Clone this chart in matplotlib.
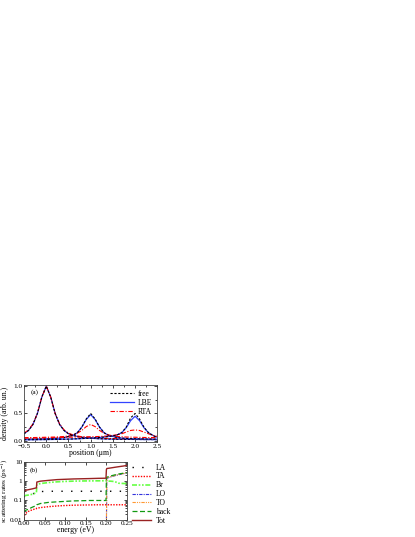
import matplotlib
matplotlib.use("Agg")
import matplotlib.pyplot as plt
import numpy as np
from matplotlib.ticker import FixedLocator, FuncFormatter, NullFormatter

plt.rcParams['font.family'] = ['Liberation Serif', 'DejaVu Serif']
plt.rcParams['mathtext.fontset'] = 'stix'

# ---- panel (a): density profiles at three times ----
pos = [-0.5, -0.4, -0.3, -0.2, -0.1, 0.0, 0.1, 0.2, 0.3, 0.4, 0.5,
       0.6, 0.7, 0.8, 0.9, 1.0, 1.1, 1.2, 1.3, 1.4, 1.5,
       1.6, 1.7, 1.8, 1.9, 2.0, 2.1, 2.2, 2.3, 2.4, 2.5]

free_t0 = [0.13, 0.19, 0.30, 0.50, 0.80, 1.00, 0.80, 0.50, 0.30, 0.19, 0.13,
           0.10, 0.08, 0.065, 0.055, 0.048, 0.043, 0.039, 0.036, 0.034, 0.032,
           0.030, 0.029, 0.028, 0.027, 0.026, 0.025, 0.024, 0.024, 0.023, 0.023]
lbe_t0 = [0.13, 0.19, 0.30, 0.50, 0.80, 1.00, 0.80, 0.50, 0.30, 0.19, 0.13,
          0.10, 0.08, 0.065, 0.055, 0.048, 0.043, 0.039, 0.036, 0.034, 0.032,
          0.030, 0.029, 0.028, 0.027, 0.026, 0.025, 0.024, 0.024, 0.023, 0.023]
rta_t0 = [0.14, 0.20, 0.31, 0.50, 0.80, 1.00, 0.80, 0.50, 0.31, 0.20, 0.14,
          0.11, 0.09, 0.075, 0.065, 0.058, 0.053, 0.049, 0.046, 0.044, 0.042,
          0.040, 0.039, 0.038, 0.037, 0.036, 0.035, 0.034, 0.034, 0.033, 0.033]

free_t1 = [0.030, 0.030, 0.032, 0.034, 0.036, 0.038, 0.040, 0.045, 0.050, 0.060, 0.080,
           0.100, 0.150, 0.250, 0.400, 0.500, 0.400, 0.250, 0.150, 0.100, 0.080,
           0.060, 0.050, 0.045, 0.040, 0.038, 0.036, 0.034, 0.032, 0.030, 0.030]
lbe_t1 = [0.030, 0.030, 0.032, 0.034, 0.036, 0.038, 0.040, 0.045, 0.050, 0.060, 0.080,
          0.100, 0.150, 0.250, 0.390, 0.480, 0.390, 0.250, 0.150, 0.100, 0.080,
          0.060, 0.050, 0.045, 0.040, 0.038, 0.036, 0.034, 0.032, 0.030, 0.030]
rta_t1 = [0.060, 0.060, 0.060, 0.062, 0.064, 0.066, 0.068, 0.070, 0.075, 0.080, 0.090,
          0.110, 0.140, 0.190, 0.260, 0.300, 0.260, 0.190, 0.140, 0.110, 0.090,
          0.080, 0.075, 0.070, 0.068, 0.066, 0.064, 0.062, 0.060, 0.060, 0.060]

free_t2 = [0.020, 0.020, 0.021, 0.022, 0.023, 0.024, 0.025, 0.026, 0.028, 0.030, 0.032,
           0.035, 0.038, 0.042, 0.046, 0.050, 0.055, 0.062, 0.070, 0.080, 0.090,
           0.110, 0.150, 0.250, 0.420, 0.500, 0.400, 0.250, 0.150, 0.100, 0.060]
lbe_t2 = [0.020, 0.020, 0.021, 0.022, 0.023, 0.024, 0.025, 0.026, 0.028, 0.030, 0.032,
          0.035, 0.038, 0.042, 0.046, 0.050, 0.055, 0.062, 0.070, 0.080, 0.090,
          0.110, 0.150, 0.240, 0.370, 0.450, 0.370, 0.240, 0.150, 0.100, 0.065]
rta_t2 = [0.050, 0.050, 0.050, 0.052, 0.054, 0.056, 0.058, 0.060, 0.062, 0.064, 0.066,
          0.068, 0.070, 0.072, 0.074, 0.076, 0.078, 0.080, 0.085, 0.090, 0.100,
          0.110, 0.130, 0.160, 0.190, 0.200, 0.190, 0.160, 0.130, 0.100, 0.080]

# ---- panel (b): scattering rates vs energy ----
energy = [0.0, 0.002, 0.01, 0.02, 0.03, 0.031, 0.04, 0.06, 0.08, 0.10, 0.12,
          0.14, 0.16, 0.18, 0.199, 0.2, 0.201, 0.21, 0.22, 0.23, 0.24, 0.25]
rate_LA = [0.15, 0.17, 0.19, 0.22, 0.25, 0.28, 0.29, 0.30, 0.30, 0.30, 0.30,
           0.30, 0.30, 0.30, 0.30, 0.30, 0.30, 0.30, 0.30, 0.30, 0.30, 0.30]
rate_TA = [0.012, 0.020, 0.027, 0.033, 0.038, 0.040, 0.043, 0.048, 0.052, 0.055, 0.057,
           0.058, 0.059, 0.060, 0.060, 0.060, 0.060, 0.060, 0.060, 0.060, 0.060, 0.060]
rate_Br = [0.17, 0.18, 0.19, 0.21, 0.25, 0.68, 0.75, 0.85, 0.92, 0.97, 1.00,
           1.02, 1.03, 1.04, 1.05, 1.00, 1.00, 1.00, 0.95, 0.78, 0.76, 0.75]
rate_LO = [np.nan] * 15 + [0.005, 1.40, 1.65, 1.90, 2.15, 2.40, 2.65]
rate_TO = [np.nan] * 15 + [0.005, 1.45, 1.70, 1.95, 2.20, 2.45, 2.70]
rate_back = [0.025, 0.030, 0.035, 0.045, 0.055, 0.060, 0.070, 0.080, 0.085, 0.090, 0.095,
             0.097, 0.100, 0.100, 0.100, 1.40, 1.60, 1.85, 2.10, 2.35, 2.55, 2.75]
rate_Tot = [0.25, 0.33, 0.36, 0.40, 0.45, 0.90, 1.00, 1.10, 1.20, 1.25, 1.30,
            1.33, 1.36, 1.40, 1.42, 4.00, 4.50, 4.80, 5.20, 5.60, 6.00, 6.50]

fig = plt.figure(figsize=(4.15, 5.37), dpi=100)
fs = 5.2
fl = 5.6

ax1 = fig.add_axes([0.058, 0.177, 0.321, 0.106])
for lbe, rta, free in [(lbe_t0, rta_t0, free_t0), (lbe_t1, rta_t1, free_t1),
                       (lbe_t2, rta_t2, free_t2)]:
    ax1.plot(pos, lbe, color='#3344ff', lw=0.9, label='LBE')
    ax1.plot(pos, rta, color='red', lw=0.8, ls=(0, (4, 1.5, 1, 1.5)), label='RTA')
    ax1.plot(pos, free, color='black', lw=0.8, ls=(0, (2, 1.5)), label='free')
h, l = ax1.get_legend_handles_labels()
ax1.legend([h[2], h[0], h[1]], ['free', 'LBE', 'RTA'], loc='upper right',
           frameon=False, fontsize=fs + 0.3, handlelength=3.2, handletextpad=0.5,
           labelspacing=0.12, borderaxespad=0.25)
ax1.set_xlim(-0.5, 2.5)
ax1.set_ylim(-0.02, 1.02)
ax1.set_xticks([-0.5, 0.0, 0.5, 1.0, 1.5, 2.0, 2.5])
ax1.set_yticks([0.0, 0.5, 1.0])
ax1.set_xticks([-0.25, 0.25, 0.75, 1.25, 1.75, 2.25], minor=True)
ax1.set_yticks([0.25, 0.75], minor=True)
ax1.set_xlabel('position (μm)', fontsize=fl, labelpad=0.5)
ax1.set_ylabel('density (arb. un.)', fontsize=fl)
ax1.yaxis.set_label_coords(-0.11, 0.5)
ax1.text(0.05, 0.93, '(a)', transform=ax1.transAxes, fontsize=fs, va='top')

ax2 = fig.add_axes([0.058, 0.032, 0.248, 0.108])
ax2.plot(energy, rate_LA, color='black', lw=1.0, ls=(0, (1, 6)), label='LA')
ax2.plot(energy, rate_TA, color='red', lw=1.0, ls=(0, (1, 1)), label='TA')
ax2.plot(energy, rate_Br, color='#66ff44', lw=1.2, ls=(0, (3, 1, 1, 1, 1, 1)), label='Br')
ax2.plot(energy, rate_LO, color='#3333dd', lw=0.8, ls=(0, (3, 1, 1, 1)), label='LO')
ax2.plot(energy, rate_TO, color='#ff9933', lw=0.8, ls=(0, (3, 1, 1, 1, 1, 1)), label='TO')
ax2.plot(energy, rate_back, color='#119911', lw=0.9, ls=(0, (4, 2)), label='back')
ax2.plot(energy, rate_Tot, color='#992222', lw=1.0, label='Tot')
ax2.set_yscale('log')
ax2.set_xlim(0, 0.25)
ax2.set_ylim(0.01, 10)
ax2.set_xticks([0.0, 0.05, 0.10, 0.15, 0.20, 0.25])
ax2.xaxis.set_major_formatter(FuncFormatter(lambda v, p: '%.2f' % v))
ax2.yaxis.set_major_locator(FixedLocator([0.01, 0.1, 1, 10]))
ax2.yaxis.set_major_formatter(FuncFormatter(lambda v, p: '%g' % v))
ax2.yaxis.set_minor_formatter(NullFormatter())
ax2.set_xlabel('energy (eV)', fontsize=fl, labelpad=0)
ax2.set_ylabel('scattering rates (ps$^{-1}$)', fontsize=fl - 0.4)
ax2.yaxis.set_label_coords(-0.14, 0.5)
ax2.text(0.05, 0.9, '(b)', transform=ax2.transAxes, fontsize=fs, va='top')
ax2.legend(loc='upper left', bbox_to_anchor=(1.0, 1.05), frameon=False,
           fontsize=fs + 0.3, handlelength=2.6, handletextpad=0.6, labelspacing=0.12,
           borderaxespad=0.2)

for ax in (ax1, ax2):
    ax.tick_params(direction='in', which='both', top=True, right=True,
                   labelsize=fs, pad=1.2, length=2, width=0.5)
    ax.tick_params(which='minor', length=1.2)
    for s in ax.spines.values():
        s.set_linewidth(0.6)
        s.set_color('#444444')

fig.savefig('out.png', dpi=100)
